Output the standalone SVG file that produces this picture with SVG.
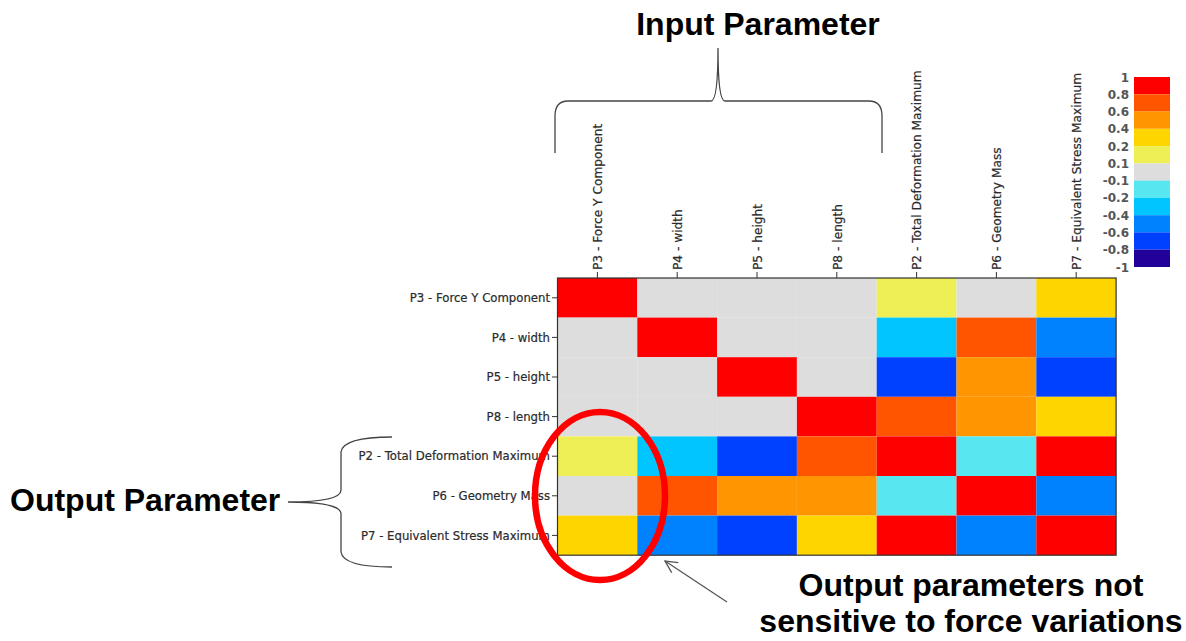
<svg xmlns="http://www.w3.org/2000/svg" width="1186" height="641" viewBox="0 0 1186 641">
  <style>
    .title { font-family: "Liberation Sans", Arial, sans-serif; font-weight: bold; font-size: 32px; fill: #000; }
    .rowlab { font-family: "DejaVu Sans", sans-serif; font-size: 11.7px; fill: #2a2a2a; stroke: #2a2a2a; stroke-width: 0.2; text-anchor: end; }
    .collab { font-family: "DejaVu Sans", sans-serif; font-size: 12.2px; fill: #2a2a2a; stroke: #2a2a2a; stroke-width: 0.2; }
    .cbl { font-family: "DejaVu Sans", sans-serif; font-weight: bold; font-size: 12px; fill: #555; text-anchor: end; }
    .tick { stroke: #333; stroke-width: 1; }
    .brace { fill: none; stroke: #444; stroke-width: 1.3; }
    .c10 { fill: #FF0000; } .c08 { fill: #FF5500; } .c06 { fill: #FF9500; } .c04 { fill: #FFD500; }
    .c02 { fill: #EEEE55; } .c00 { fill: #DDDDDD; } .m01 { fill: #58E6F0; } .m02 { fill: #00C5FF; }
    .m04 { fill: #0082FF; } .m06 { fill: #0040FF; } .m08 { fill: #22009A; }
  </style>
  <defs>
    <marker id="openArrow" markerWidth="16" markerHeight="16" refX="13" refY="8" orient="auto" markerUnits="userSpaceOnUse">
      <path d="M1,2 L13,8 L1,14" fill="none" stroke="#555" stroke-width="1.3"/>
    </marker>
  </defs>
  <rect width="1186" height="641" fill="#fff"/>

  <!-- headings -->
  <g id="input-title"><text class="title" x="758" y="35" text-anchor="middle">Input Parameter</text></g>
  <g id="output-title"><text class="title" x="10" y="511">Output Parameter</text></g>
  <g id="note">
    <text class="title" x="971" y="596" text-anchor="middle">Output parameters not</text>
    <text class="title" x="971" y="632" text-anchor="middle">sensitive to force variations</text>
  </g>

  <!-- braces -->
  <g id="input-brace">
    <path class="brace" d="M555,153 L555,116 Q555,101 568,101 L711,101 Q718,101 718,48 Q718,101 725,101 L869,101 Q882,101 882,116 L882,153"/>
  </g>
  <g id="output-brace">
    <path class="brace" d="M392,437 Q343,437 341,452 L341,490 Q341,502 288,502 Q341,502 341,514 L341,552 Q343,567 392,567"/>
  </g>

  <!-- correlation matrix: cells 79.8 x 39.6 -->
  <g id="matrix">
    <!-- row P3 -->
    <rect class="c10" x="557.5" y="278" width="79.8" height="39.6"/>
    <rect class="c00" x="637.3" y="278" width="79.8" height="39.6"/>
    <rect class="c00" x="717.1" y="278" width="79.8" height="39.6"/>
    <rect class="c00" x="796.9" y="278" width="79.8" height="39.6"/>
    <rect class="c02" x="876.7" y="278" width="79.8" height="39.6"/>
    <rect class="c00" x="956.5" y="278" width="79.8" height="39.6"/>
    <rect class="c04" x="1036.3" y="278" width="79.8" height="39.6"/>
    <!-- row P4 -->
    <rect class="c00" x="557.5" y="317.6" width="79.8" height="39.6"/>
    <rect class="c10" x="637.3" y="317.6" width="79.8" height="39.6"/>
    <rect class="c00" x="717.1" y="317.6" width="79.8" height="39.6"/>
    <rect class="c00" x="796.9" y="317.6" width="79.8" height="39.6"/>
    <rect class="m02" x="876.7" y="317.6" width="79.8" height="39.6"/>
    <rect class="c08" x="956.5" y="317.6" width="79.8" height="39.6"/>
    <rect class="m04" x="1036.3" y="317.6" width="79.8" height="39.6"/>
    <!-- row P5 -->
    <rect class="c00" x="557.5" y="357.2" width="79.8" height="39.6"/>
    <rect class="c00" x="637.3" y="357.2" width="79.8" height="39.6"/>
    <rect class="c10" x="717.1" y="357.2" width="79.8" height="39.6"/>
    <rect class="c00" x="796.9" y="357.2" width="79.8" height="39.6"/>
    <rect class="m06" x="876.7" y="357.2" width="79.8" height="39.6"/>
    <rect class="c06" x="956.5" y="357.2" width="79.8" height="39.6"/>
    <rect class="m06" x="1036.3" y="357.2" width="79.8" height="39.6"/>
    <!-- row P8 -->
    <rect class="c00" x="557.5" y="396.8" width="79.8" height="39.6"/>
    <rect class="c00" x="637.3" y="396.8" width="79.8" height="39.6"/>
    <rect class="c00" x="717.1" y="396.8" width="79.8" height="39.6"/>
    <rect class="c10" x="796.9" y="396.8" width="79.8" height="39.6"/>
    <rect class="c08" x="876.7" y="396.8" width="79.8" height="39.6"/>
    <rect class="c06" x="956.5" y="396.8" width="79.8" height="39.6"/>
    <rect class="c04" x="1036.3" y="396.8" width="79.8" height="39.6"/>
    <!-- row P2 -->
    <rect class="c02" x="557.5" y="436.4" width="79.8" height="39.6"/>
    <rect class="m02" x="637.3" y="436.4" width="79.8" height="39.6"/>
    <rect class="m06" x="717.1" y="436.4" width="79.8" height="39.6"/>
    <rect class="c08" x="796.9" y="436.4" width="79.8" height="39.6"/>
    <rect class="c10" x="876.7" y="436.4" width="79.8" height="39.6"/>
    <rect class="m01" x="956.5" y="436.4" width="79.8" height="39.6"/>
    <rect class="c10" x="1036.3" y="436.4" width="79.8" height="39.6"/>
    <!-- row P6 -->
    <rect class="c00" x="557.5" y="476" width="79.8" height="39.6"/>
    <rect class="c08" x="637.3" y="476" width="79.8" height="39.6"/>
    <rect class="c06" x="717.1" y="476" width="79.8" height="39.6"/>
    <rect class="c06" x="796.9" y="476" width="79.8" height="39.6"/>
    <rect class="m01" x="876.7" y="476" width="79.8" height="39.6"/>
    <rect class="c10" x="956.5" y="476" width="79.8" height="39.6"/>
    <rect class="m04" x="1036.3" y="476" width="79.8" height="39.6"/>
    <!-- row P7 -->
    <rect class="c04" x="557.5" y="515.6" width="79.8" height="39.6"/>
    <rect class="m04" x="637.3" y="515.6" width="79.8" height="39.6"/>
    <rect class="m06" x="717.1" y="515.6" width="79.8" height="39.6"/>
    <rect class="c04" x="796.9" y="515.6" width="79.8" height="39.6"/>
    <rect class="c10" x="876.7" y="515.6" width="79.8" height="39.6"/>
    <rect class="m04" x="956.5" y="515.6" width="79.8" height="39.6"/>
    <rect class="c10" x="1036.3" y="515.6" width="79.8" height="39.6"/>
    <rect x="557.5" y="278" width="558.6" height="277.2" fill="none" stroke="#333" stroke-width="1.2"/>
  </g>

  <!-- row axis -->
  <g id="row-labels">
    <text class="rowlab" x="550" y="302">P3 - Force Y Component</text>
    <text class="rowlab" x="550" y="341.6">P4 - width</text>
    <text class="rowlab" x="550" y="381.2">P5 - height</text>
    <text class="rowlab" x="550" y="420.8">P8 - length</text>
    <text class="rowlab" x="550" y="460.4">P2 - Total Deformation Maximum</text>
    <text class="rowlab" x="550" y="500">P6 - Geometry Mass</text>
    <text class="rowlab" x="550" y="539.6">P7 - Equivalent Stress Maximum</text>
    <path class="tick" d="M552,297.8h5.5M552,337.4h5.5M552,377h5.5M552,416.6h5.5M552,456.2h5.5M552,495.8h5.5M552,535.4h5.5"/>
  </g>

  <!-- column axis -->
  <g id="col-labels">
    <text class="collab" transform="translate(602,270) rotate(-90)">P3 - Force Y Component</text>
    <text class="collab" transform="translate(682,270) rotate(-90)">P4 - width</text>
    <text class="collab" transform="translate(761.5,270) rotate(-90)">P5 - height</text>
    <text class="collab" transform="translate(841.5,270) rotate(-90)">P8 - length</text>
    <text class="collab" transform="translate(921,270) rotate(-90)">P2 - Total Deformation Maximum</text>
    <text class="collab" transform="translate(1001,270) rotate(-90)">P6 - Geometry Mass</text>
    <text class="collab" transform="translate(1081,270) rotate(-90)">P7 - Equivalent Stress Maximum</text>
    <path class="tick" d="M597.4,272v6M677.2,272v6M757,272v6M836.8,272v6M916.6,272v6M996.4,272v6M1076.2,272v6"/>
  </g>

  <!-- colour scale -->
  <g id="colorbar">
    <rect class="c10" x="1134" y="77" width="36" height="17.3"/>
    <rect class="c08" x="1134" y="94.3" width="36" height="17.3"/>
    <rect class="c06" x="1134" y="111.5" width="36" height="17.3"/>
    <rect class="c04" x="1134" y="128.8" width="36" height="17.3"/>
    <rect class="c02" x="1134" y="146.1" width="36" height="17.3"/>
    <rect class="c00" x="1134" y="163.4" width="36" height="17.3"/>
    <rect class="m01" x="1134" y="180.6" width="36" height="17.3"/>
    <rect class="m02" x="1134" y="197.9" width="36" height="17.3"/>
    <rect class="m04" x="1134" y="215.2" width="36" height="17.3"/>
    <rect class="m06" x="1134" y="232.4" width="36" height="17.3"/>
    <rect class="m08" x="1134" y="249.7" width="36" height="17.3"/>
    <text class="cbl" x="1129" y="81.5">1</text>
    <text class="cbl" x="1129" y="98.8">0.8</text>
    <text class="cbl" x="1129" y="116">0.6</text>
    <text class="cbl" x="1129" y="133.3">0.4</text>
    <text class="cbl" x="1129" y="150.6">0.2</text>
    <text class="cbl" x="1129" y="167.9">0.1</text>
    <text class="cbl" x="1129" y="185.1">-0.1</text>
    <text class="cbl" x="1129" y="202.4">-0.2</text>
    <text class="cbl" x="1129" y="219.7">-0.4</text>
    <text class="cbl" x="1129" y="236.9">-0.6</text>
    <text class="cbl" x="1129" y="254.2">-0.8</text>
    <text class="cbl" x="1129" y="271.5">-1</text>
  </g>

  <!-- highlight around the force column -->
  <g id="highlight">
    <ellipse cx="600" cy="496" rx="65" ry="84" fill="none" stroke="#FF0000" stroke-width="6.5"/>
  </g>

  <g id="connectors">
    <line x1="727" y1="602" x2="665" y2="561" stroke="#555" stroke-width="1.3" marker-end="url(#openArrow)"/>
  </g>
</svg>
